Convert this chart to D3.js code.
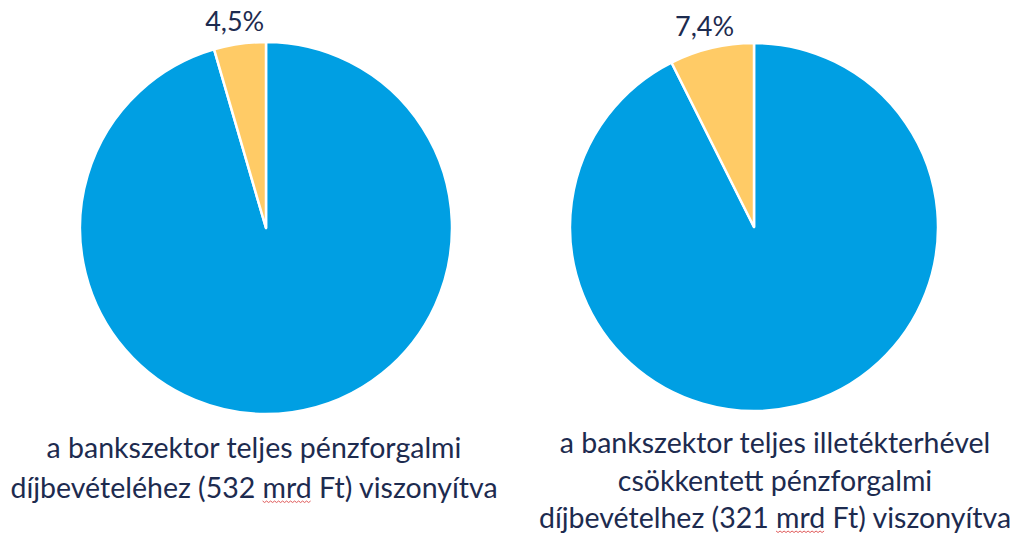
<!DOCTYPE html>
<html>
<head>
<meta charset="utf-8">
<script src="https://cdn.jsdelivr.net/npm/d3@7"></script>
<style>
  body { margin: 0; background: #fff; }
  text { font-family: Lato, "Open Sans", sans-serif; fill: #1d2b4f; }
</style>
</head>
<body>
<svg id="chart"></svg>
<script>
// share of the two parts, in percent
var pies = ["left", "right"];
var smallShare = [4.5, 7.4];
var shareLabels = ["4,5%", "7,4%"];
var captions = [
  ["a bankszektor teljes pénzforgalmi", "díjbevételéhez (532 mrd Ft) viszonyítva"],
  ["a bankszektor teljes illetékterhével", "csökkentett pénzforgalmi", "díjbevételhez (321 mrd Ft) viszonyítva"]
];

var width = 1016, height = 534;
var svg = d3.select("#chart").attr("width", width).attr("height", height);

var centers = [[266, 228], [754, 227]];
var radii = [186, 184];
var colors = ["#009fe3", "#ffcb66"];
var captionY = [[458, 498], [453, 491, 528]];
var captionX = [254, 775];

var pie = d3.pie().sort(null).value(function(d) { return d; });

pies.forEach(function(name, i) {
  var g = svg.append("g").attr("transform", "translate(" + centers[i][0] + "," + centers[i][1] + ")");
  var arc = d3.arc().innerRadius(0).outerRadius(radii[i]);
  var labelArc = d3.arc().innerRadius(radii[i] + 22).outerRadius(radii[i] + 22);
  var arcs = pie([100 - smallShare[i], smallShare[i]]);

  g.selectAll("path")
    .data(arcs)
    .enter()
    .append("path")
    .attr("d", arc)
    .style("fill", function(d, j) { return colors[j]; })
    .style("stroke", "#fff")
    .style("stroke-width", 2.5)
    .style("stroke-linejoin", "round");

  var c = labelArc.centroid(arcs[1]);
  g.append("text")
    .attr("x", c[0] - 2)
    .attr("y", c[1] + 9)
    .attr("text-anchor", "middle")
    .style("font-size", "27px")
    .text(shareLabels[i]);

  captions[i].forEach(function(line, k) {
    var t = svg.append("text")
      .attr("x", captionX[i])
      .attr("y", captionY[i][k])
      .attr("text-anchor", "middle")
      .style("font-size", "28.5px")
      .text(line);

    // red spell-check squiggle under "mrd"
    var pos = line.indexOf("mrd");
    if (pos >= 0) {
      var node = t.node();
      var x0 = node.getStartPositionOfChar(pos).x;
      var x1 = node.getEndPositionOfChar(pos + 2).x;
      var y0 = captionY[i][k] + 3;
      var pts = [];
      for (var x = x0, s = 0; x <= x1; x += 2, s++) pts.push([x, y0 + (s % 2 ? 1.5 : 0)]);
      svg.append("path")
        .attr("d", d3.line()(pts))
        .style("fill", "none")
        .style("stroke", "#e05a5a")
        .style("stroke-width", 1);
    }
  });
});
</script>
</body>
</html>
